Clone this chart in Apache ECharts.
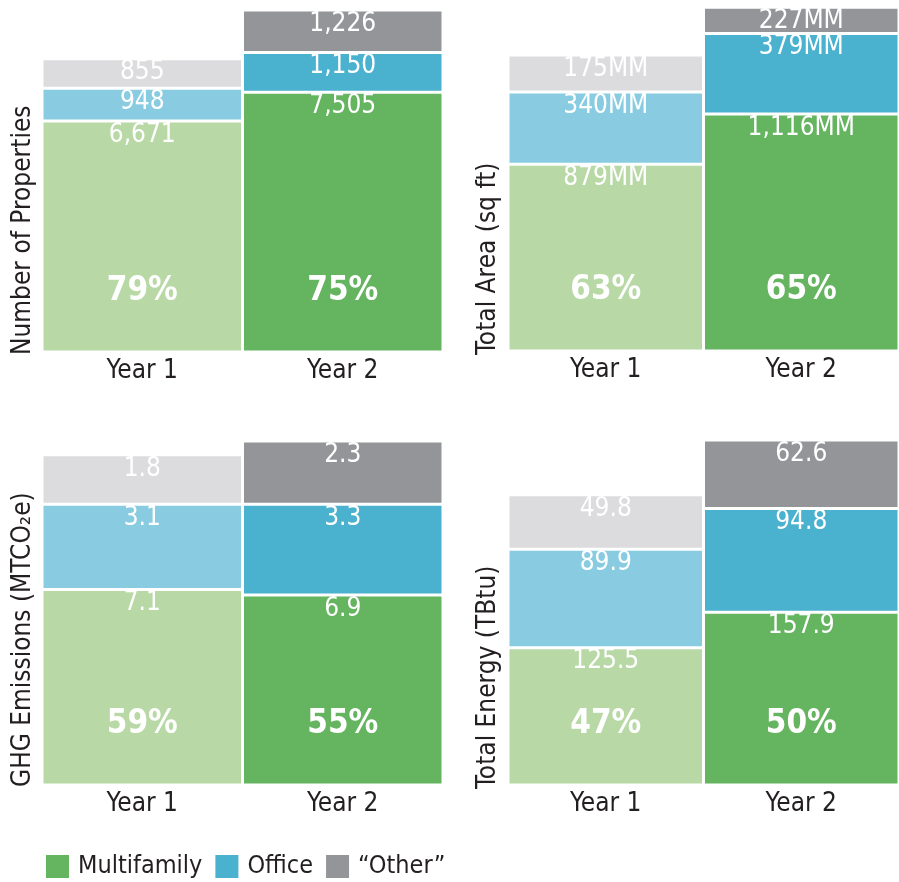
<!DOCTYPE html>
<html>
<head>
<meta charset="utf-8">
<script src="https://cdn.jsdelivr.net/npm/echarts@6/dist/echarts.min.js"></script>
<style>
  html, body { margin: 0; padding: 0; background: #fff; }
  #chart { width: 899px; height: 882px; }
</style>
</head>
<body>
<div id="chart"></div>
<script>
const years = ['Year 1', 'Year 2']

// Number of Properties
const propMulti = [6671, 7505]
const propOffice = [948, 1150]
const propOther = [855, 1226]
const propPct = [79, 75]
// Total Area (MM sq ft)
const areaMulti = [879, 1116]
const areaOffice = [340, 379]
const areaOther = [175, 227]
const areaPct = [63, 65]
// GHG Emissions (MTCO2e)
const ghgMulti = [7.1, 6.9]
const ghgOffice = [3.1, 3.3]
const ghgOther = [1.8, 2.3]
const ghgPct = [59, 55]
// Total Energy (TBtu)
const energyMulti = [125.5, 157.9]
const energyOffice = [89.9, 94.8]
const energyOther = [49.8, 62.6]
const energyPct = [47, 50]

const FONT = "'Liberation Sans Narrow', 'DejaVu Sans Condensed', 'Roboto', sans-serif"
const DARK = '#231f20'

// [year2 colour, year1 colour]
const COLORS = {
  Multifamily: ['#65b460', '#b8d9a6'],
  Office: ['#4ab1ce', '#89cce1'],
  '“Other”': ['#939598', '#dcdcde'],
}

const fmtInt = (v) => v.toLocaleString('en-US')
const fmtMM = (v) => v.toLocaleString('en-US') + 'MM'
const fmtDec = (v) => v.toFixed(1)

const panels = [
  { grid: { left: 42, top: 10, width: 401, height: 342 }, max: 'dataMax', fmt: fmtInt,
    multi: propMulti, office: propOffice, other: propOther, pct: propPct },
  { grid: { left: 508, top: 8, width: 398, height: 343 }, max: 1615, fmt: fmtMM,
    multi: areaMulti, office: areaOffice, other: areaOther, pct: areaPct },
  { grid: { left: 42, top: 441, width: 401, height: 344 }, max: 'dataMax', fmt: fmtDec,
    multi: ghgMulti, office: ghgOffice, other: ghgOther, pct: ghgPct },
  { grid: { left: 508, top: 440, width: 398, height: 345 }, max: 'dataMax', fmt: fmtDec,
    multi: energyMulti, office: energyOffice, other: energyOther, pct: energyPct },
]

const yNames = [
  { text: 'Number of Properties', x: 23, y: 355 },
  { text: 'Total Area (sq ft)', x: 488, y: 355 },
  { text: 'GHG Emissions (MTCO₂e)', x: 23, y: 787 },
  { text: 'Total Energy (TBtu)', x: 488, y: 789 },
]

function segSeries(name, values, idx, fmt) {
  return {
    name,
    type: 'bar',
    stack: 'total' + idx,
    xAxisIndex: idx,
    yAxisIndex: idx,
    barCategoryGap: '0%',
    barGap: '-100%',
    itemStyle: { color: COLORS[name][0], borderColor: '#fff', borderWidth: 1.5 },
    data: values.map((v, i) => ({
      value: v,
      itemStyle: { color: COLORS[name][i === 0 ? 1 : 0] },
    })),
    label: {
      show: true,
      position: 'insideTop',
      distance: 1,
      color: '#fff',
      fontFamily: FONT,
      fontSize: 26,
      formatter: (p) => fmt(p.value),
    },
  }
}

const series = []
panels.forEach((p, idx) => {
  series.push(segSeries('Multifamily', p.multi, idx, p.fmt))
  series.push(segSeries('Office', p.office, idx, p.fmt))
  series.push(segSeries('“Other”', p.other, idx, p.fmt))
  // transparent overlay carrying the big percentage label
  series.push({
    name: 'share',
    type: 'bar',
    xAxisIndex: idx,
    yAxisIndex: idx,
    barCategoryGap: '0%',
    barGap: '-100%',
    itemStyle: { color: 'rgba(0,0,0,0)' },
    z: 5,
    silent: true,
    data: p.multi,
    label: {
      show: true,
      position: ['50%', '100%'],
      offset: [0, -61],
      align: 'center',
      verticalAlign: 'middle',
      color: '#fff',
      fontFamily: FONT,
      fontWeight: 'bold',
      fontSize: 33,
      formatter: (q) => p.pct[q.dataIndex] + '%',
    },
  })
})

const chart = echarts.init(document.getElementById('chart'))
chart.setOption({
  animation: false,
  textStyle: { fontFamily: FONT },
  grid: panels.map((p) => p.grid),
  xAxis: panels.map((p, idx) => ({
    type: 'category',
    gridIndex: idx,
    data: years,
    axisLine: { show: false },
    axisTick: { show: false },
    axisLabel: { color: DARK, fontSize: 26, fontFamily: FONT, margin: 6 },
  })),
  yAxis: panels.map((p, idx) => ({
    type: 'value',
    gridIndex: idx,
    min: 0,
    max: p.max,
    show: false,
  })),
  legend: {
    data: ['Multifamily', 'Office', '“Other”'],
    left: 44,
    top: 853,
    padding: 0,
    itemWidth: 25,
    itemHeight: 25,
    itemGap: 11,
    icon: 'rect',
    textStyle: { color: DARK, fontSize: 25, fontFamily: FONT, padding: [0, 0, 0, 3] },
  },
  graphic: yNames.map((n) => ({
    type: 'text',
    x: n.x,
    y: n.y,
    rotation: Math.PI / 2,
    style: {
      text: n.text,
      fill: DARK,
      fontSize: 26,
      fontFamily: FONT,
      align: 'left',
      verticalAlign: 'middle',
    },
  })),
  series,
})
</script>
</body>
</html>
